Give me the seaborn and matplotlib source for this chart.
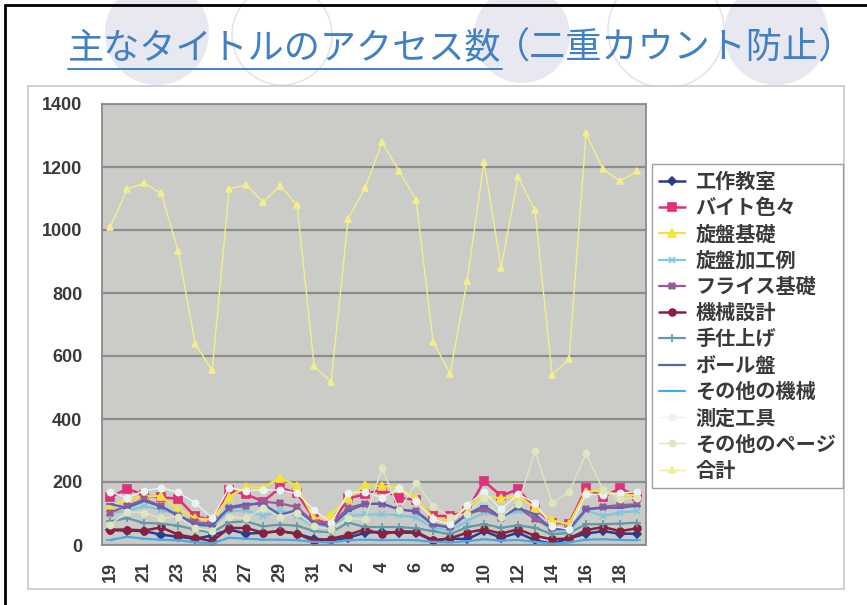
import numpy as np
import pandas as pd
import matplotlib
matplotlib.use("Agg")
import matplotlib.pyplot as plt
import seaborn as sns
from matplotlib.patches import Circle, Rectangle

sns.set_style("white")
plt.rcParams["font.family"] = ["Noto Sans CJK JP", "DejaVu Sans"]

# -----------------------------
# Datos
# -----------------------------
days = [19, 20, 21, 22, 23, 24, 25, 26, 27, 28, 29, 30, 31,
        1, 2, 3, 4, 5, 6, 7, 8, 9, 10, 11, 12, 13, 14, 15, 16, 17, 18, 19]

kosaku = [47, 46, 44, 33, 26, 20, 30, 49, 36, 39, 44, 36, 20, 15, 23, 39,
          42, 39, 39, 13, 21, 18, 44, 23, 39, 15, 4, 21, 36, 44, 36, 36]
baito = [151, 179, 158, 151, 147, 91, 80, 174, 161, 138, 182, 164, 82, 65, 148, 161,
         177, 150, 143, 92, 92, 108, 203, 156, 177, 116, 71, 68, 180, 152, 180, 156]
senban_kiso = [120, 145, 155, 155, 114, 85, 80, 153, 184, 182, 214, 187, 82, 96, 150, 190,
               187, 182, 150, 87, 78, 121, 156, 148, 156, 118, 78, 66, 169, 174, 156, 159]
senban_kakou = [101, 108, 124, 111, 99, 60, 61, 106, 111, 91, 111, 91, 60, 55, 92, 97,
                97, 95, 87, 55, 45, 76, 103, 90, 108, 90, 45, 40, 110, 92, 103, 108]
furaisu = [103, 124, 145, 124, 91, 72, 68, 117, 124, 138, 132, 120, 70, 65, 118, 131,
           131, 113, 108, 66, 57, 99, 113, 87, 121, 81, 55, 50, 113, 121, 127, 129]
kikai_sekkei = [49, 49, 46, 56, 33, 23, 12, 54, 54, 39, 44, 36, 12, 20, 32, 50,
                34, 44, 42, 15, 21, 39, 50, 36, 50, 29, 18, 21, 47, 57, 44, 53]
teshiage = [75, 85, 70, 68, 61, 49, 39, 72, 75, 59, 65, 61, 44, 40, 71, 57,
            57, 57, 53, 44, 34, 57, 66, 55, 62, 55, 34, 38, 66, 66, 68, 71]
boorubann = [130, 118, 140, 122, 95, 65, 61, 120, 130, 130, 96, 111, 70, 60, 108, 130,
             131, 113, 106, 64, 55, 97, 124, 89, 118, 97, 50, 50, 113, 118, 118, 125]
sonota_kikai = [16, 26, 20, 17, 15, 9, 5, 23, 20, 17, 17, 15, 10, 8, 15, 17,
                15, 16, 15, 10, 8, 12, 18, 14, 16, 10, 4, 8, 17, 18, 16, 15]
sokutei = [169, 150, 172, 181, 167, 134, 85, 182, 172, 176, 174, 164, 111, 70, 166, 169,
           150, 180, 140, 81, 66, 127, 169, 113, 161, 134, 60, 50, 161, 160, 165, 169]
sonota_page = [65, 105, 103, 85, 90, 54, 44, 90, 85, 117, 89, 103, 59, 50, 85, 81,
               245, 110, 198, 124, 90, 100, 150, 90, 130, 297, 134, 167, 291, 175, 147, 150]
goukei = [1009, 1130, 1149, 1116, 934, 639, 554, 1130, 1144, 1088, 1141, 1078, 568, 518, 1036, 1133,
          1278, 1187, 1096, 645, 544, 837, 1217, 879, 1168, 1062, 541, 589, 1307, 1193, 1155, 1187]

nombres = ["工作教室", "バイト色々", "旋盤基礎", "旋盤加工例", "フライス基礎", "機械設計",
           "手仕上げ", "ボール盤", "その他の機械", "測定工具", "その他のページ", "合計"]
valores = [kosaku, baito, senban_kiso, senban_kakou, furaisu, kikai_sekkei,
           teshiage, boorubann, sonota_kikai, sokutei, sonota_page, goukei]

colores = ["#2A3C8C", "#E0307A", "#F2E23A", "#7FC6E0", "#9C5A92", "#8A2040",
           "#5E9AA8", "#5A64B4", "#4AA8E6", "#E8F3F5", "#DDE6BE", "#F2EE8C"]
marcadores = ["D", "s", "^", "x", "X", "o", "+", "_", "_", "o", "o", "^"]
tam_marc = [4, 5.5, 5.5, 5, 5, 5, 6, 6, 6, 4.5, 4.5, 4.5]
anchos = [1.8, 1.8, 1.6, 1.6, 1.6, 1.8, 1.6, 1.6, 1.6, 1.0, 1.0, 1.0]

idx = np.arange(len(days))
df = pd.DataFrame({"i": np.tile(idx, len(nombres)),
                   "serie": np.repeat(nombres, len(days)),
                   "accesos": np.concatenate(valores)})

# -----------------------------
# Figura
# -----------------------------
W, H = 867, 605
fig = plt.figure(figsize=(W / 100, H / 100), dpi=100)
fig.patch.set_facecolor("white")

# fondo de la diapositiva (coordenadas en pixeles)
bg = fig.add_axes([0, 0, 1, 1], zorder=-5)
bg.set_xlim(0, W)
bg.set_ylim(H, 0)
bg.axis("off")
for cx, cy, r, relleno in [(157, 33, 52, True), (282, 35, 50, False), (522, 35, 48, True),
                           (666, 30, 58, False), (776, 33, 52, True)]:
    if relleno:
        bg.add_patch(Circle((cx, cy), r, facecolor="#E8E8F0", edgecolor="none"))
    else:
        bg.add_patch(Circle((cx, cy), r, facecolor="none", edgecolor="#E4E4EC", lw=1.2))
bg.add_patch(Rectangle((28, 86), 816, 503, facecolor="white", edgecolor="#C8C8C8", lw=1.2))
bg.plot([5, W], [5, 5], color="black", lw=2)
bg.plot([5, 5], [5, H], color="black", lw=2)

# título con subrayado parcial
azul = "#4080C4"
t1 = bg.text(68, 49, "主なタイトルのアクセス数", fontsize=26, color=azul, va="center", ha="left")
fig.canvas.draw()
bb = t1.get_window_extent().transformed(bg.transData.inverted())
x_fin = bb.x1
bg.text(x_fin - 8, 49, "（二重カウント防止）", fontsize=26, color=azul, va="center", ha="left")
bg.plot([68, x_fin], [69, 69], color=azul, lw=1.4)

# área del gráfico
ax = fig.add_axes([101.7 / W, 1 - 545 / H, (645.5 - 101.7) / W, (545 - 104) / H])
ax.set_facecolor("#CBCCC7")

for nombre, c, m, ms, lw in zip(nombres, colores, marcadores, tam_marc, anchos):
    sub = df[df["serie"] == nombre]
    sns.lineplot(data=sub, x="i", y="accesos", ax=ax, color=c, marker=m,
                 markersize=ms, linewidth=lw, markeredgecolor=c,
                 markeredgewidth=1.2, label=nombre, legend=False)

ax.set_xlim(-0.5, len(days) - 0.5)
ax.set_ylim(0, 1400)
ax.set_yticks(range(0, 1401, 200))
ax.set_yticklabels([str(v) for v in range(0, 1401, 200)], fontsize=13,
                   family="Liberation Sans", fontweight="bold", color="#3A3A3A")
ax.yaxis.grid(True, color="#8C8C8C", lw=1.6)
ax.set_axisbelow(True)
ax.set_xticks(idx[::2])
ax.set_xticklabels([str(d) for d in days[::2]], rotation=90, fontsize=13,
                   family="Liberation Sans", fontweight="bold", color="#3A3A3A")
ax.set_xticks(idx[:-1] + 0.5, minor=True)
ax.tick_params(axis="x", which="major", length=0, pad=12)
ax.tick_params(axis="x", which="minor", length=3, color="#888888")
ax.tick_params(axis="y", length=0, pad=14)
ax.set_xlabel("")
ax.set_ylabel("")
for s in ax.spines.values():
    s.set_color("#8A8A8A")
    s.set_linewidth(1.3)

# leyenda
handles, labels = ax.get_legend_handles_labels()
fig.legend(handles, labels, loc="upper left", bbox_to_anchor=(652 / W, 1 - 164 / H),
           frameon=True, fancybox=False, edgecolor="#A0A0A0", facecolor="white",
           framealpha=1, prop={"size": 14.5, "weight": "bold"}, labelcolor="#3A3A3A",
           handlelength=1.3, labelspacing=0.26, borderaxespad=0, borderpad=0.35,
           handletextpad=0.5)

plt.savefig("out.png", dpi=100)
